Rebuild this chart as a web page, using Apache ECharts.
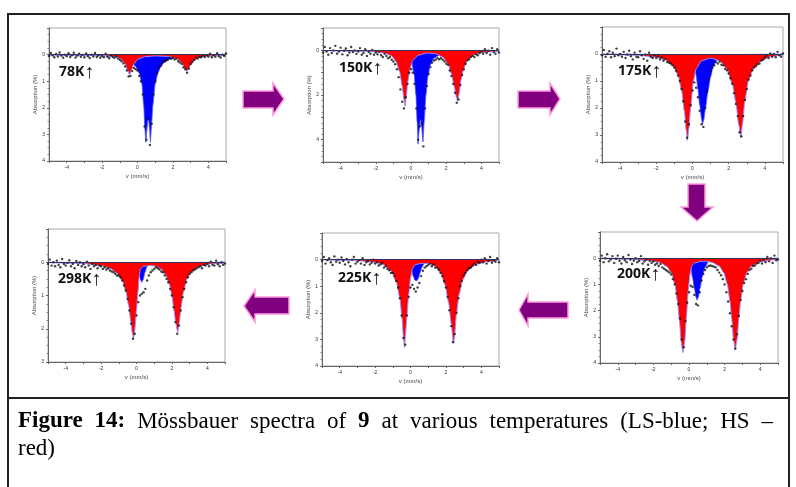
<!DOCTYPE html>
<html>
<head>
<meta charset="utf-8">
<script src="https://cdn.jsdelivr.net/npm/echarts@6/dist/echarts.min.js"></script>
<style>html,body{margin:0;background:#fff}#main{width:796px;height:487px}</style>
</head>
<body>
<div id="main"></div>
<script>
// velocity grid of the measured points (mm/s)
var velocity = [-5.0,-4.9,-4.8,-4.7,-4.6,-4.5,-4.4,-4.3,-4.2,-4.1,
	-4.0,-3.9,-3.8,-3.7,-3.6,-3.5,-3.4,-3.3,-3.2,-3.1,
	-3.0,-2.9,-2.8,-2.7,-2.6,-2.5,-2.4,-2.3,-2.2,-2.1,
	-2.0,-1.9,-1.8,-1.7,-1.6,-1.5,-1.4,-1.3,-1.2,-1.1,
	-1.0,-0.9,-0.8,-0.7,-0.6,-0.5,-0.4,-0.3,-0.2,-0.1,
	0.0,0.1,0.2,0.3,0.4,0.5,0.6,0.7,0.8,0.9,
	1.0,1.1,1.2,1.3,1.4,1.5,1.6,1.7,1.8,1.9,
	2.0,2.1,2.2,2.3,2.4,2.5,2.6,2.7,2.8,2.9,
	3.0,3.1,3.2,3.3,3.4,3.5,3.6,3.7,3.8,3.9,
	4.0,4.1,4.2,4.3,4.4,4.5,4.6,4.7,4.8,4.9,5.0];

var temps = ['78K', '150K', '175K', '200K', '225K', '298K'];
var yMax = [4, 5, 4, 4, 4, 3];

// 78 K
var hs78 = [[-5,0.01],[-2,0.03],[-1.2,0.08],[-0.9,0.18],[-0.7,0.35],[-0.55,0.6],[-0.45,0.75],[-0.35,0.6],[-0.2,0.35],[0,0.18],[0.4,0.08],[1,0.05],[1.8,0.07],[2.2,0.15],[2.5,0.3],[2.65,0.5],[2.8,0.62],[2.95,0.45],[3.1,0.28],[3.4,0.13],[3.8,0.06],[5,0.02]];
var ls78 = [[-5,0.01],[-2,0.04],[-1,0.1],[-0.6,0.18],[-0.3,0.3],[-0.1,0.45],[0.1,0.7],[0.25,1.1],[0.35,1.9],[0.42,2.8],[0.47,3.3],[0.52,2.9],[0.58,2.5],[0.63,2.45],[0.68,2.8],[0.73,3.3],[0.79,2.7],[0.87,1.9],[1.0,1.1],[1.15,0.7],[1.3,0.48],[1.5,0.3],[1.8,0.18],[2.3,0.09],[3,0.04],[5,0.01]];
var pts78 = [0.05,-0.06,0.03,0.1,-0.02,0.07,-0.08,0.04,0.12,0.0,
	0.06,-0.05,0.09,0.02,-0.07,0.11,0.04,-0.03,0.08,0.01,
	0.1,-0.04,0.06,0.13,0.0,0.07,-0.06,0.09,0.03,0.12,
	0.05,0.1,-0.03,0.08,0.14,0.02,0.09,0.12,0.06,0.15,
	0.2,0.25,0.33,0.45,0.6,0.82,0.8,0.62,0.5,0.55,
	0.6,0.8,1.0,1.5,2.7,3.2,2.4,3.4,2.6,1.5,
	1.0,0.7,0.5,0.42,0.3,0.25,0.22,0.2,0.12,0.15,
	0.12,0.18,0.15,0.25,0.3,0.35,0.48,0.55,0.68,0.52,
	0.35,0.28,0.2,0.12,0.15,0.08,0.1,0.04,0.09,0.02,
	0.07,-0.03,0.1,0.02,0.08,-0.05,0.06,0.11,0.0,0.05,-0.04];

// 150 K
var hs150 = [[-5,0.01],[-2.5,0.04],[-1.5,0.12],[-1.1,0.25],[-0.85,0.5],[-0.65,0.95],[-0.5,1.6],[-0.4,2.2],[-0.34,2.5],[-0.27,2.1],[-0.18,1.4],[-0.05,0.8],[0.1,0.45],[0.4,0.22],[0.9,0.12],[1.4,0.15],[1.8,0.3],[2.1,0.6],[2.3,1.05],[2.45,1.6],[2.58,2.1],[2.65,2.27],[2.72,2.0],[2.85,1.3],[3.0,0.8],[3.2,0.45],[3.5,0.22],[4,0.1],[5,0.03]];
var ls150 = [[-5,0.01],[-2,0.04],[-1,0.1],[-0.4,0.2],[-0.1,0.35],[0.05,0.6],[0.18,1.1],[0.28,2.0],[0.35,3.2],[0.4,4.2],[0.46,3.6],[0.54,3.1],[0.6,3.4],[0.68,4.1],[0.75,3.2],[0.85,2.0],[0.95,1.2],[1.1,0.65],[1.3,0.35],[1.7,0.18],[2.5,0.08],[5,0.02]];
var pts150 = [0.1,-0.15,0.05,0.2,-0.1,0.12,0.0,-0.2,0.15,0.05,
	-0.12,0.18,0.02,-0.08,0.22,0.1,-0.15,0.08,0.0,0.16,
	0.05,-0.1,0.2,0.12,-0.05,0.25,0.08,0.15,-0.02,0.2,
	0.1,0.18,0.05,0.22,0.3,0.15,0.25,0.35,0.3,0.42,
	0.5,0.62,0.85,1.2,1.75,2.3,2.6,2.1,1.5,1.0,
	0.85,1.0,1.5,2.6,4.0,3.4,3.3,4.3,2.6,1.6,
	1.05,0.75,0.55,0.45,0.42,0.35,0.4,0.35,0.42,0.5,
	0.6,0.65,0.9,1.15,1.5,1.9,2.35,2.2,1.55,1.1,
	0.85,0.6,0.45,0.4,0.3,0.25,0.3,0.18,0.22,0.12,
	0.05,0.15,-0.05,0.12,0.02,0.2,-0.1,0.08,0.15,-0.05,0.1];

// 175 K
var hs175 = [[-5,0.01],[-3,0.05],[-2,0.12],[-1.5,0.22],[-1.1,0.42],[-0.8,0.78],[-0.6,1.35],[-0.45,2.1],[-0.35,2.8],[-0.28,3.2],[-0.2,2.75],[-0.1,1.95],[0.05,1.0],[0.2,0.55],[0.5,0.25],[1,0.15],[1.5,0.25],[1.9,0.55],[2.2,1.1],[2.4,1.8],[2.55,2.6],[2.67,3.1],[2.76,2.6],[2.9,1.7],[3.1,0.95],[3.4,0.5],[3.8,0.25],[4.3,0.1],[5,0.03]];
var ls175 = [[-5,0],[-1,0.02],[-0.2,0.06],[0,0.15],[0.1,0.4],[0.2,0.8],[0.3,1.3],[0.4,1.9],[0.5,2.4],[0.55,2.6],[0.62,2.45],[0.72,2.0],[0.85,1.4],[1.0,0.85],[1.15,0.45],[1.35,0.2],[1.7,0.07],[2.5,0.02],[5,0]];
var pts175 = [0.05,-0.15,0.1,0.0,-0.1,0.12,-0.05,0.08,-0.2,0.05,
	0.0,0.1,-0.08,0.15,0.02,-0.12,0.08,0.2,-0.05,0.1,
	0.12,-0.1,0.05,0.18,0.02,0.25,-0.05,0.1,0.15,0.05,
	0.15,0.08,0.2,0.12,0.25,0.18,0.3,0.32,0.35,0.42,
	0.5,0.62,0.8,1.0,1.3,1.75,2.5,3.1,2.6,1.9,
	1.35,1.05,1.25,1.6,2.1,2.6,2.7,2.0,1.4,0.95,
	0.65,0.5,0.42,0.3,0.35,0.28,0.4,0.42,0.55,0.6,
	0.72,0.9,1.1,1.45,1.85,2.3,2.9,3.05,2.3,1.7,
	1.3,0.95,0.8,0.6,0.5,0.45,0.38,0.35,0.25,0.2,
	0.12,0.05,0.15,-0.02,0.1,0.0,0.12,-0.08,0.05,0.1,-0.02];

// 200 K
var hs200 = [[-5,0.02],[-3.5,0.04],[-2.34,0.08],[-1.64,0.16],[-1.24,0.32],[-0.99,0.56],[-0.79,1.0],[-0.64,1.68],[-0.54,2.38],[-0.44,3.19],[-0.34,3.6],[-0.24,3.19],[-0.14,2.2],[-0.04,1.2],[0.06,0.6],[0.15,0.3],[0.3,0.18],[0.7,0.12],[1.0,0.12],[1.3,0.16],[1.7,0.3],[1.95,0.55],[2.15,0.98],[2.3,1.63],[2.4,2.3],[2.5,3.1],[2.6,3.5],[2.7,3.1],[2.8,2.3],[2.9,1.63],[3.05,0.98],[3.25,0.55],[3.5,0.31],[3.9,0.15],[4.6,0.07],[5,0.05]];
var ls200 = [[-5,0],[-0.5,0.02],[0,0.1],[0.1,0.35],[0.2,0.75],[0.3,1.15],[0.4,1.5],[0.45,1.6],[0.52,1.5],[0.62,1.15],[0.75,0.7],[0.9,0.35],[1.1,0.12],[1.6,0.03],[5,0]];
var pts200 = [0.1,-0.1,0.15,0.0,-0.15,0.12,0.05,-0.08,0.18,0.02,
	-0.1,0.1,0.2,-0.05,0.08,0.15,-0.12,0.05,0.22,0.1,
	0.0,0.15,0.1,-0.08,0.2,0.12,0.05,0.25,0.1,0.18,
	0.12,0.25,0.2,0.3,0.22,0.35,0.4,0.45,0.5,0.55,
	0.62,0.8,1.0,1.35,1.75,2.3,3.1,3.4,2.4,1.7,
	1.3,1.05,1.1,1.4,1.75,1.8,1.3,0.85,0.6,0.45,
	0.35,0.3,0.28,0.3,0.32,0.35,0.45,0.55,0.65,0.8,
	1.0,1.3,1.65,2.1,2.6,3.1,3.45,2.9,2.2,1.6,
	1.25,0.95,0.8,0.6,0.45,0.4,0.3,0.28,0.2,0.18,
	0.1,0.2,0.05,0.15,-0.05,0.12,0.0,0.18,-0.1,0.08,0.05];

// 225 K
var hs225 = [[-5,0.01],[-3,0.04],[-2,0.1],[-1.5,0.2],[-1.1,0.42],[-0.8,0.85],[-0.6,1.45],[-0.48,2.2],[-0.4,2.9],[-0.34,3.3],[-0.28,2.8],[-0.2,2.1],[-0.1,1.3],[0.0,0.7],[0.1,0.35],[0.25,0.2],[0.6,0.14],[1.0,0.15],[1.4,0.25],[1.7,0.5],[1.95,0.95],[2.15,1.6],[2.3,2.4],[2.4,3.0],[2.44,3.15],[2.5,2.8],[2.6,2.0],[2.75,1.3],[2.95,0.75],[3.25,0.4],[3.7,0.18],[4.3,0.08],[5,0.03]];
var ls225 = [[-5,0],[-0.3,0.02],[-0.05,0.12],[0.05,0.35],[0.15,0.62],[0.25,0.78],[0.35,0.8],[0.45,0.7],[0.55,0.48],[0.65,0.28],[0.8,0.12],[1.0,0.05],[1.4,0.02],[5,0]];
var pts225 = [0.05,-0.1,0.15,0.02,-0.05,0.1,0.2,-0.12,0.08,0.0,
	0.12,-0.08,0.05,0.18,-0.02,0.1,0.25,0.0,-0.1,0.15,
	0.08,0.02,0.15,-0.05,0.2,0.1,0.05,0.18,0.12,0.0,
	0.15,0.1,0.22,0.18,0.12,0.3,0.25,0.35,0.4,0.5,
	0.5,0.62,0.8,1.05,1.45,2.1,2.95,3.2,2.1,1.4,
	1.05,0.95,1.1,1.2,1.05,0.88,0.62,0.42,0.3,0.25,
	0.2,0.15,0.25,0.18,0.3,0.3,0.38,0.5,0.62,0.8,
	1.05,1.4,1.9,2.5,3.1,2.8,2.0,1.45,1.0,0.8,
	0.6,0.5,0.4,0.32,0.3,0.22,0.15,0.2,0.08,0.12,
	0.0,0.1,-0.05,0.15,0.05,-0.1,0.12,0.02,0.08,-0.05,0.1];

// 298 K
var hs298 = [[-5,0.01],[-3,0.04],[-2,0.1],[-1.5,0.18],[-1.1,0.33],[-0.8,0.56],[-0.6,0.88],[-0.45,1.28],[-0.32,1.78],[-0.23,2.15],[-0.17,2.3],[-0.1,2.05],[0,1.45],[0.08,0.9],[0.15,0.45],[0.22,0.2],[0.4,0.12],[0.8,0.1],[1.1,0.12],[1.4,0.2],[1.65,0.38],[1.85,0.65],[2.0,1.0],[2.12,1.45],[2.22,1.85],[2.33,2.1],[2.42,1.8],[2.52,1.35],[2.65,0.9],[2.85,0.5],[3.1,0.28],[3.5,0.13],[4.2,0.05],[5,0.02]];
var ls298 = [[-5,0],[-0.2,0.02],[0,0.1],[0.12,0.3],[0.22,0.52],[0.3,0.6],[0.38,0.52],[0.48,0.3],[0.6,0.12],[0.8,0.04],[1.2,0.01],[5,0]];
var pts298 = [0.05,-0.08,0.1,0.0,0.12,-0.05,0.08,0.15,-0.1,0.05,
	0.1,0.02,-0.06,0.12,0.05,0.18,-0.04,0.08,0.0,0.12,
	0.06,0.15,-0.02,0.1,0.2,0.05,0.12,0.08,0.18,0.1,
	0.12,0.2,0.15,0.22,0.18,0.25,0.28,0.3,0.35,0.4,
	0.4,0.45,0.55,0.7,0.85,1.1,1.45,1.85,2.3,2.15,
	1.6,1.2,1.0,0.95,0.9,0.8,0.55,0.4,0.3,0.25,
	0.2,0.15,0.18,0.22,0.28,0.3,0.4,0.5,0.6,0.8,
	1.0,1.35,1.8,2.15,1.9,1.45,1.05,0.8,0.6,0.45,
	0.35,0.3,0.25,0.22,0.18,0.15,0.12,0.18,0.08,0.1,
	0.05,0.12,-0.02,0.08,0.1,-0.05,0.06,0.12,0.0,0.08,0.04];

// caption words: [text, bold]
var caption1 = [['Figure',1],['14:',1],['Mössbauer',0],['spectra',0],['of',0],['9',1],['at',0],['various',0],['temperatures',0],['(LS-blue;',0],['HS',0],['–',0]];
var caption2 = 'red)';

var panels = [
	{hs: hs78, ls: ls78, pts: pts78, box: [49, 28, 177, 133], label: [59, 73]},
	{hs: hs150, ls: ls150, pts: pts150, box: [323, 28, 176, 134], label: [339, 69]},
	{hs: hs175, ls: ls175, pts: pts175, box: [602, 27, 181, 135], label: [618, 72]},
	{hs: hs200, ls: ls200, pts: pts200, box: [600, 232, 178, 131], label: [617, 275]},
	{hs: hs225, ls: ls225, pts: pts225, box: [322, 233, 177, 133], label: [338, 279]},
	{hs: hs298, ls: ls298, pts: pts298, box: [48, 229, 177, 133], label: [58, 280]}
];

var myChart = echarts.init(document.getElementById('main'), null, {renderer: 'canvas'});

var grids = [], xAxes = [], yAxes = [], series = [], graphics = [];

panels.forEach(function (p, i) {
	grids.push({
		left: p.box[0], top: p.box[1], width: p.box[2], height: p.box[3],
		show: true, borderColor: '#aaa', borderWidth: 1, backgroundColor: '#fff'
	});
	xAxes.push({
		gridIndex: i, type: 'value', min: -5, max: 5, interval: 1,
		name: 'v (mm/s)', nameLocation: 'middle', nameGap: 12,
		nameTextStyle: {fontSize: 6, color: '#444', fontFamily: 'Liberation Sans'},
		axisLine: {onZero: false, lineStyle: {color: '#666', width: 1}},
		axisTick: {length: 2, lineStyle: {color: '#666'}},
		axisLabel: {fontSize: 5, color: '#333', margin: 4,
			formatter: function (v) { return (v % 2 === 0 && Math.abs(v) < 5) ? String(v) : ''; }},
		splitLine: {show: false}
	});
	yAxes.push({
		gridIndex: i, type: 'value', min: -1, max: yMax[i], interval: 1, inverse: true,
		name: 'Absorption (%)', nameLocation: 'middle', nameGap: 11, nameRotate: 90,
		nameTextStyle: {fontSize: 6, color: '#444', fontFamily: 'Liberation Sans'},
		axisLine: {onZero: false, lineStyle: {color: '#666', width: 1}},
		axisTick: {length: 2, lineStyle: {color: '#666'}},
		minorTick: {show: true, splitNumber: 4, length: 1.5, lineStyle: {color: '#888'}},
		axisLabel: {fontSize: 5, color: '#333', margin: 4,
			formatter: function (v) {
				if (v < 0) return '';
				if (yMax[i] === 5 && v % 2 !== 0) return '';
				return String(v);
			}},
		splitLine: {show: false}
	});
	// LS (blue) under, HS (red) over
	series.push({
		type: 'line', xAxisIndex: i, yAxisIndex: i, data: p.ls,
		smooth: 0.2, smoothMonotone: 'x', symbol: 'none', z: 2,
		lineStyle: {color: '#5555ff', width: 0.8},
		areaStyle: {color: '#0000ff', opacity: 1}
	});
	series.push({
		type: 'line', xAxisIndex: i, yAxisIndex: i, data: p.hs,
		smooth: 0.2, smoothMonotone: 'x', symbol: 'none', z: 3,
		lineStyle: {color: '#9a8cff', width: 1},
		areaStyle: {color: '#ff0000', opacity: 1},
		markLine: {
			silent: true, symbol: 'none', label: {show: false},
			lineStyle: {color: '#333355', width: 1, type: 'solid'},
			data: [{yAxis: 0}]
		}
	});
	series.push({
		type: 'scatter', xAxisIndex: i, yAxisIndex: i, z: 4,
		data: velocity.map(function (v, k) { return [v, p.pts[k]]; }),
		symbolSize: 2.4, itemStyle: {color: '#111'}
	});
	graphics.push({
		type: 'text', left: p.label[0], top: p.label[1] - 11, z: 10,
		style: {
			text: '{t|' + temps[i] + '}{a|↑}',
			rich: {
				t: {fontFamily: 'Open Sans', fontWeight: 'bold', fontSize: 14, fill: '#111', verticalAlign: 'middle'},
				a: {fontFamily: 'Liberation Sans', fontWeight: 'bold', fontSize: 20, fill: '#111', verticalAlign: 'middle'}
			}
		}
	});
});

var arrowStyle = {fill: '#800080', stroke: '#ff99dd', lineWidth: 1.5};
var arrows = [
	[[243,91],[273,91],[273,83],[284,99],[273,115],[273,108],[243,108]],
	[[518,91],[550,91],[550,83],[560,99],[550,115],[550,108],[518,108]],
	[[688,184],[705,184],[705,207],[713,207],[697,221],[681,207],[688,207]],
	[[519,310],[528,294],[528,302],[568,302],[568,318],[528,318],[528,326]],
	[[244,306],[255,290],[255,297],[289,297],[289,314],[255,314],[255,322]]
];
arrows.forEach(function (pts) {
	graphics.push({type: 'polygon', z: 10, shape: {points: pts}, style: arrowStyle});
});

// frame and caption box
graphics.push({type: 'rect', z: 1, shape: {x: 8, y: 14, width: 781, height: 384},
	style: {fill: null, stroke: '#222', lineWidth: 2}});
graphics.push({type: 'line', z: 1, shape: {x1: 8, y1: 398, x2: 8, y2: 487},
	style: {stroke: '#222', lineWidth: 2}});
graphics.push({type: 'line', z: 1, shape: {x1: 789, y1: 398, x2: 789, y2: 487},
	style: {stroke: '#222', lineWidth: 2}});

// justified first caption line
var serif = 'Liberation Serif';
var capSize = 23;
var ctx = document.createElement('canvas').getContext('2d');
function wordWidth(w, bold) {
	ctx.font = (bold ? 'bold ' : '') + capSize + 'px "' + serif + '"';
	return ctx.measureText(w).width;
}
var capLeft = 18, capRight = 773;
var widths = caption1.map(function (w) { return wordWidth(w[0], w[1]); });
var total = widths.reduce(function (a, b) { return a + b; }, 0);
var gap = (capRight - capLeft - total) / (caption1.length - 1);
var cx = capLeft;
caption1.forEach(function (w, k) {
	graphics.push({
		type: 'text', left: cx, top: 410, z: 10,
		style: {text: w[0], fontFamily: serif, fontSize: capSize,
			fontWeight: w[1] ? 'bold' : 'normal', fill: '#000'}
	});
	cx += widths[k] + gap;
});
graphics.push({
	type: 'text', left: 18, top: 437, z: 10,
	style: {text: caption2, fontFamily: serif, fontSize: capSize, fill: '#000'}
});

myChart.setOption({
	animation: false,
	grid: grids,
	xAxis: xAxes,
	yAxis: yAxes,
	series: series,
	graphic: graphics
});
</script>
</body>
</html>
